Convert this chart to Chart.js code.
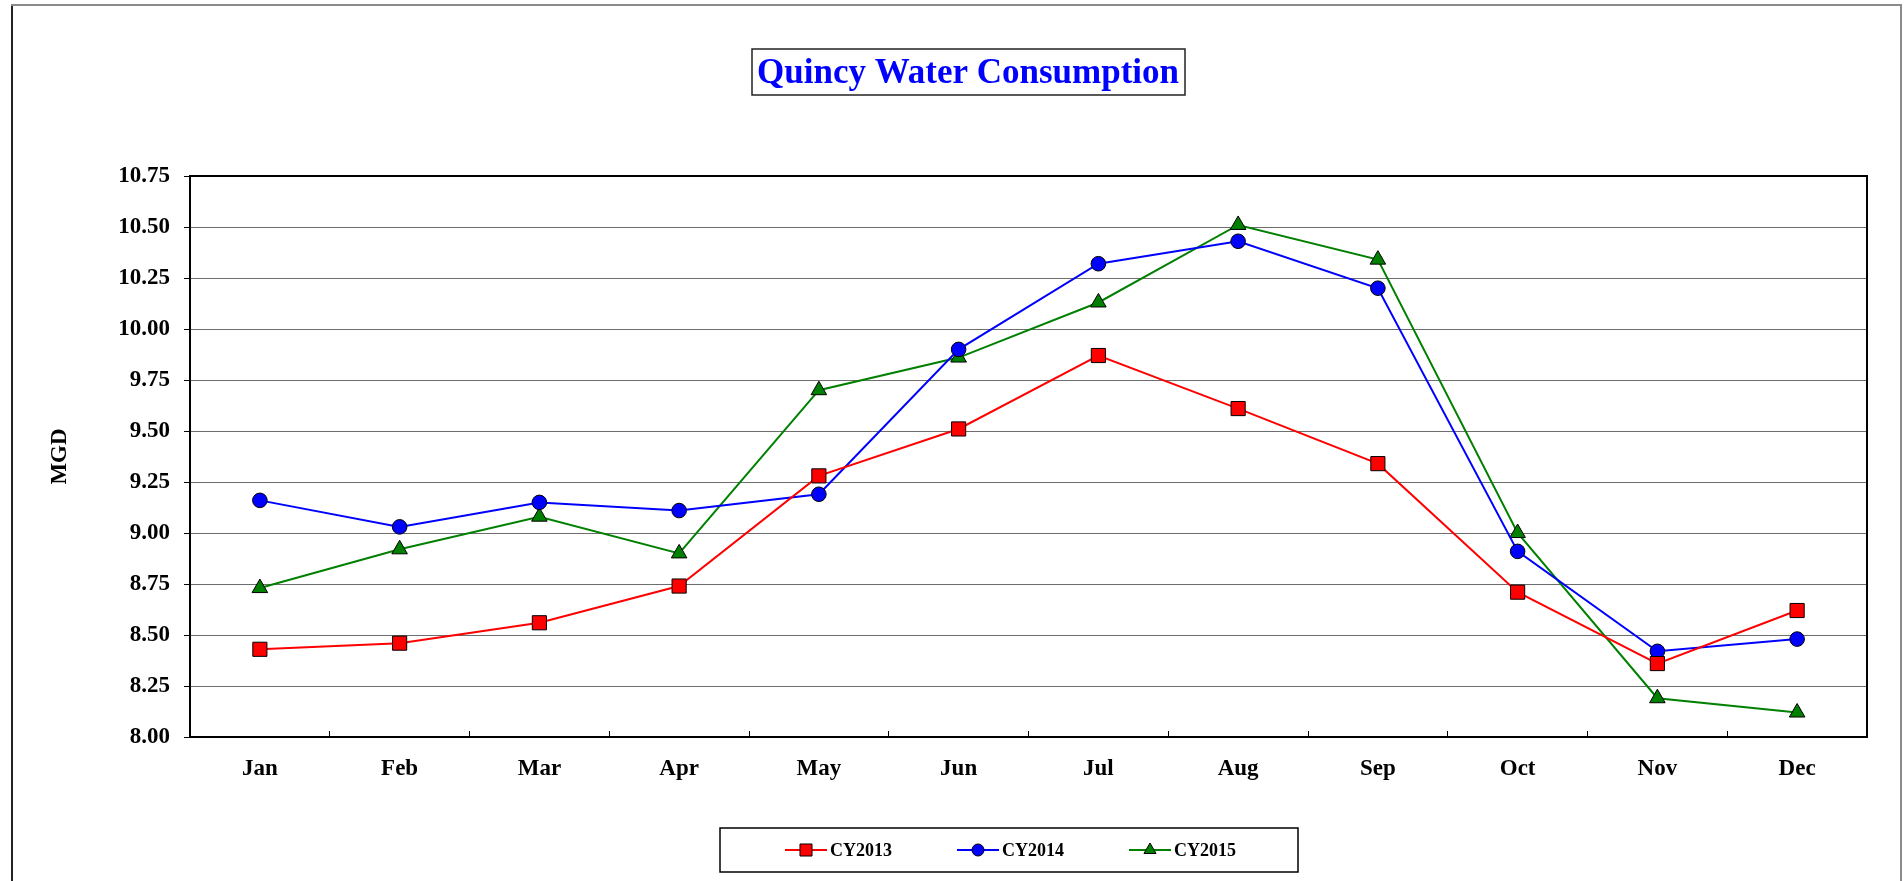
<!DOCTYPE html>
<html>
<head>
<meta charset="utf-8">
<title>Quincy Water Consumption</title>
<script src="https://cdn.jsdelivr.net/npm/chart.js@4.4.0/dist/chart.umd.min.js"></script>
<style>
  body { margin: 0; background: #fff; }
  #wrap { width: 1904px; height: 881px; position: relative; }
</style>
</head>
<body>
<div id="wrap"><canvas id="myChart" width="1904" height="881"></canvas></div>
<script>
// data
const months = ['Jan', 'Feb', 'Mar', 'Apr', 'May', 'Jun', 'Jul', 'Aug', 'Sep', 'Oct', 'Nov', 'Dec'];
const seriesNames = ['CY2013', 'CY2014', 'CY2015'];
const cy2013 = [8.43, 8.46, 8.56, 8.74, 9.28, 9.51, 9.87, 9.61, 9.34, 8.71, 8.36, 8.62];
const cy2014 = [9.16, 9.03, 9.15, 9.11, 9.19, 9.90, 10.32, 10.43, 10.20, 8.91, 8.42, 8.48];
const cy2015 = [8.73, 8.92, 9.08, 8.90, 9.70, 9.86, 10.13, 10.51, 10.34, 9.00, 8.19, 8.12];
const yMin = 8.00;
const yMax = 10.75;
const yStep = 0.25;
const chartTitle = 'Quincy Water Consumption';

const serif = "'Liberation Serif', 'Times New Roman', serif";

// outer frame, plot frame, boxed title and the legend box
const framePlugin = {
    id: 'frames',
    beforeDatasetsDraw(chart) {
        const ctx = chart.ctx;
        const a = chart.chartArea;
        ctx.save();
        ctx.strokeStyle = '#000';
        ctx.lineWidth = 2;
        ctx.strokeRect(a.left, a.top, a.right - a.left, a.bottom - a.top);
        ctx.restore();
    },
    afterDraw(chart) {
        const ctx = chart.ctx;
        ctx.save();
        // outer chart border
        ctx.lineWidth = 2;
        ctx.strokeStyle = '#8a8a8a';
        ctx.beginPath();
        ctx.moveTo(12, 881);
        ctx.lineTo(12, 5);
        ctx.lineTo(1901, 5);
        ctx.lineTo(1901, 881);
        ctx.stroke();
        ctx.strokeStyle = '#000';
        ctx.lineWidth = 1.5;
        ctx.beginPath();
        ctx.moveTo(12, 881);
        ctx.lineTo(12, 6);
        ctx.stroke();

        // title with its box
        ctx.font = 'bold 35px ' + serif;
        ctx.fillStyle = '#0000ff';
        ctx.textAlign = 'center';
        ctx.textBaseline = 'middle';
        ctx.fillText(chartTitle, 968, 74);
        ctx.strokeStyle = '#222';
        ctx.lineWidth = 1.5;
        ctx.strokeRect(752, 49, 433, 46);

        // legend
        const lx = [806, 978, 1150];
        const ly = 850;
        const legendRadius = { rect: 8.5, circle: 6, triangle: 7 };
        ctx.strokeStyle = '#000';
        ctx.lineWidth = 1.5;
        ctx.strokeRect(720, 828, 578, 44);
        chart.data.datasets.forEach((ds, i) => {
            ctx.strokeStyle = ds.borderColor;
            ctx.lineWidth = 2;
            ctx.beginPath();
            ctx.moveTo(lx[i] - 21, ly);
            ctx.lineTo(lx[i] + 21, ly);
            ctx.stroke();
            ctx.fillStyle = ds.pointBackgroundColor;
            ctx.strokeStyle = '#000';
            ctx.lineWidth = 1;
            Chart.helpers.drawPoint(ctx, {
                pointStyle: ds.pointStyle,
                radius: legendRadius[ds.pointStyle],
                borderWidth: 1,
                rotation: 0
            }, lx[i], ly);
            ctx.fillStyle = '#000';
            ctx.font = 'bold 18px ' + serif;
            ctx.textBaseline = 'middle';
            ctx.textAlign = 'left';
            ctx.fillText(ds.label, lx[i] + 24, ly + 1);
        });
        ctx.restore();
    }
};

const ctx = document.getElementById('myChart').getContext('2d');
new Chart(ctx, {
    type: 'line',
    data: {
        labels: months,
        datasets: [{
            label: seriesNames[0],
            data: cy2013,
            borderColor: '#ff0000',
            backgroundColor: '#ff0000',
            pointBackgroundColor: '#ff0000',
            pointBorderColor: '#000',
            pointBorderWidth: 1,
            pointStyle: 'rect',
            pointRadius: 10,
            borderWidth: 2,
            tension: 0
        }, {
            label: seriesNames[1],
            data: cy2014,
            borderColor: '#0000ff',
            backgroundColor: '#0000ff',
            pointBackgroundColor: '#0000ff',
            pointBorderColor: '#000',
            pointBorderWidth: 1,
            pointStyle: 'circle',
            pointRadius: 7.3,
            borderWidth: 2,
            tension: 0
        }, {
            label: seriesNames[2],
            data: cy2015,
            borderColor: '#008000',
            backgroundColor: '#008000',
            pointBackgroundColor: '#008000',
            pointBorderColor: '#000',
            pointBorderWidth: 1,
            pointStyle: 'triangle',
            pointRadius: 9,
            borderWidth: 2,
            tension: 0
        }]
    },
    options: {
        responsive: false,
        animation: false,
        layout: { padding: { top: 176, right: 37, bottom: 0, left: 0 } },
        plugins: {
            legend: { display: false },
            tooltip: { enabled: false },
            title: { display: false }
        },
        scales: {
            x: {
                offset: true,
                grid: {
                    offset: true,
                    drawOnChartArea: false,
                    drawTicks: true,
                    tickLength: -6,
                    color: '#000',
                    lineWidth: 1
                },
                border: { display: true, color: '#000', width: 2 },
                ticks: {
                    color: '#000',
                    font: { family: serif, size: 23, weight: 'bold' },
                    padding: 24,
                    maxRotation: 0,
                    autoSkip: false
                },
                afterFit(scale) { scale.height = 144; }
            },
            y: {
                min: yMin,
                max: yMax,
                grid: {
                    color: '#6e6e6e',
                    lineWidth: 1,
                    drawTicks: true,
                    tickLength: 6,
                    tickColor: '#000'
                },
                border: { display: true, color: '#000', width: 2 },
                ticks: {
                    stepSize: yStep,
                    color: '#000',
                    font: { family: serif, size: 23, weight: 'bold' },
                    padding: 14,
                    callback: (v) => Number(v).toFixed(2)
                },
                title: {
                    display: true,
                    text: 'MGD',
                    color: '#000',
                    font: { family: serif, size: 23, weight: 'bold' },
                    padding: { top: 46, bottom: 0 }
                },
                afterFit(scale) { scale.width = 190; }
            }
        }
    },
    plugins: [framePlugin]
});
</script>
</body>
</html>
